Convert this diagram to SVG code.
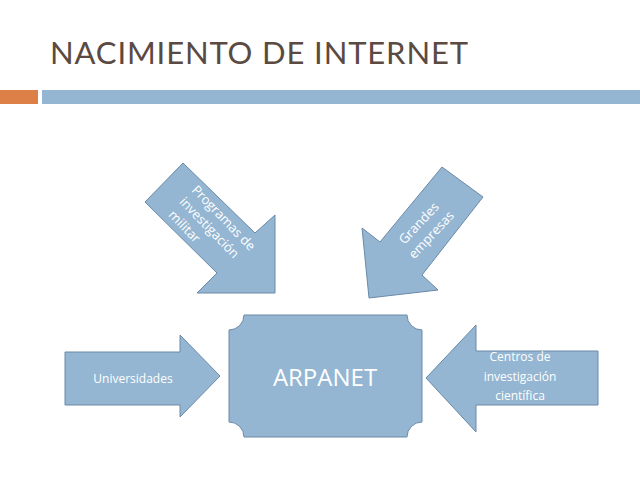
<svg xmlns="http://www.w3.org/2000/svg" width="640" height="480" viewBox="0 0 640 480">
<style>
.s{fill:#94b6d2;stroke:#6a8aa8;stroke-width:1}
.t{font-family:"Open Sans","Liberation Sans",sans-serif;fill:#fff;font-size:12px;text-anchor:middle}
.r{font-size:13px}
</style>
<rect width="640" height="480" fill="#fff"/>
<text x="50" y="64" font-family="Lato,'Liberation Sans',sans-serif" font-size="31" fill="#5a4a42" textLength="418">NACIMIENTO DE INTERNET</text>
<rect x="0" y="90" width="38" height="14" fill="#dd8047"/>
<rect x="42" y="90" width="598" height="14" fill="#94b6d2"/>
<g id="arpanet">
<path class="s" d="M244,315 H407 A15,15 0 0 0 422,330 V422 A15,15 0 0 0 407,437 H244 A15,15 0 0 0 229,422 V330 A15,15 0 0 0 244,315 Z"/>
<text x="325" y="386" class="t" style="font-size:24px">ARPANET</text>
</g>
<g id="universidades">
<polygon class="s" points="65,352 180,352 180,335 220,376 180,417 180,405 65,405"/>
<text x="133" y="383" class="t">Universidades</text>
</g>
<g id="centros">
<polygon class="s" points="598,351 476,351 476,325 426,378 476,432 476,405 598,405"/>
<text x="520" y="361" class="t">Centros de</text>
<text x="520" y="381" class="t">investigación</text>
<text x="520" y="400" class="t">científica</text>
</g>
<g id="programas">
<polygon class="s" points="145,202 183,163 255,233 275,215 275,293 197,293 217,273"/>
<g transform="translate(209,228) rotate(46)">
<text x="3" y="-13" class="t r">Programas de</text>
<text x="0" y="4" class="t r">investigación</text>
<text x="-18" y="21" class="t r">militar</text>
</g>
</g>
<g id="grandes">
<polygon class="s" points="442,167 483,197 422,275 438,290 369,298 362,228 380,242"/>
<g transform="translate(425,229) rotate(-47)">
<text x="0" y="-4" class="t r">Grandes</text>
<text x="0" y="13" class="t r">empresas</text>
</g>
</g>
<g id="connectors"/>
</svg>
